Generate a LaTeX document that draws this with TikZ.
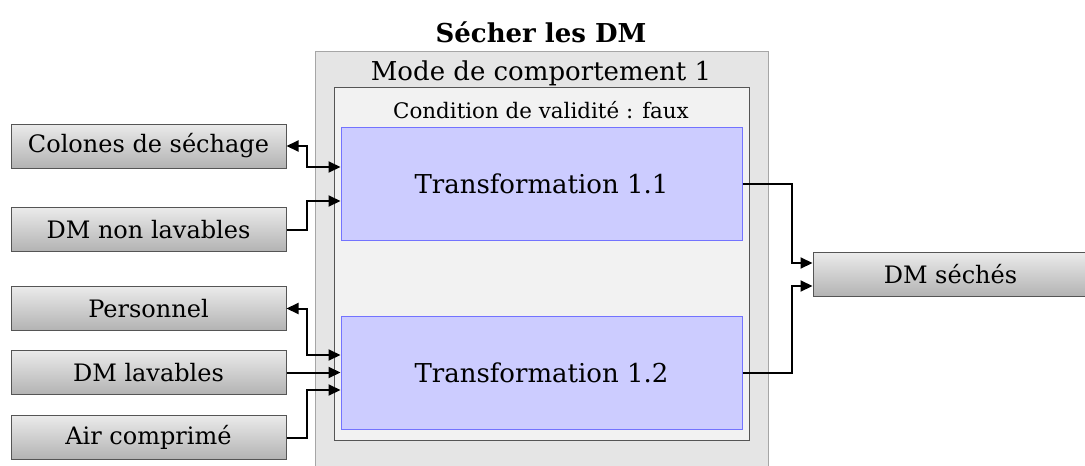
\documentclass[tikz,border=0pt]{standalone}
\usepackage{fontspec}
\setmainfont{DejaVu Serif}
\usetikzlibrary{arrows.meta}
\definecolor{modefill}{HTML}{E5E5E5}
\definecolor{modeline}{HTML}{A6A6A6}
\definecolor{condfill}{HTML}{F2F2F2}
\definecolor{condline}{HTML}{555555}
\definecolor{trfill}{HTML}{CCCCFF}
\definecolor{trline}{HTML}{7373FF}
\definecolor{extline}{HTML}{555555}
\tikzset{
  modebox/.style={draw=modeline, fill=modefill, line width=1pt},
  condbox/.style={draw=condline, fill=condfill, line width=1pt},
  trbox/.style={draw=trline, fill=trfill, line width=1pt, font=\fontsize{26}{30}\selectfont},
  extbox/.style={draw=extline, line width=1pt, top color=black!8, bottom color=black!30, font=\fontsize{24}{28}\selectfont},
  conn/.style={line width=2pt, -{Triangle[length=12pt,width=11pt]}},
  bconn/.style={line width=2pt, {Triangle[length=12pt,width=11pt]}-{Triangle[length=12pt,width=11pt]}},
}
\begin{document}
\begin{tikzpicture}[x=1pt,y=-1pt]
\useasboundingbox (0,0) rectangle (1085,466);
\node[font=\bfseries\fontsize{26}{30}\selectfont] (title) at (541,32) {Sécher les DM};
\path[modebox] (315,51) rectangle (768,470);
\node[font=\fontsize{26}{30}\selectfont] (mode) at (541,73) {Mode de comportement 1};
\path[condbox] (334,87) rectangle (749,440);
\node[font=\fontsize{21.4}{25}\selectfont] (cond) at (541,110) {Condition de validité : faux};
\node[trbox, minimum width=401pt, minimum height=113pt] (t1) at (541.5,183.5) {Transformation 1.1};
\node[trbox, minimum width=401pt, minimum height=113pt] (t2) at (541.5,372.5) {Transformation 1.2};
\node[extbox, minimum width=275pt, minimum height=44pt] (col) at (148.5,146) {Colones de séchage};
\node[extbox, minimum width=275pt, minimum height=44pt] (dmnl) at (148.5,229.5) {DM non lavables};
\node[extbox, minimum width=275pt, minimum height=44pt] (pers) at (148.5,308.5) {Personnel};
\node[extbox, minimum width=275pt, minimum height=44pt] (dml) at (148.5,372.5) {DM lavables};
\node[extbox, minimum width=275pt, minimum height=44pt] (air) at (148.5,437.5) {Air comprimé};
\node[extbox, minimum width=275pt, minimum height=44pt] (dms) at (950.5,274.5) {DM séchés};
\draw[bconn] (col.east) -- ++(20,0) |- ([yshift=16.5pt]t1.west);
\draw[conn] (dmnl.east) -- ++(20,0) |- ([yshift=-17.5pt]t1.west);
\draw[bconn] (pers.east) -- ++(20,0) |- ([yshift=17.5pt]t2.west);
\draw[conn] (dml.east) -- (t2.west|-dml.east);
\draw[conn] (air.east) -- ++(20,0) |- ([yshift=-17.5pt]t2.west);
\draw[conn] (t1.east) -- ++(49,0) |- ([yshift=11.5pt]dms.west);
\draw[conn] (t2.east) -- ++(49,0) |- ([yshift=-11.5pt]dms.west);
\end{tikzpicture}
\end{document}
